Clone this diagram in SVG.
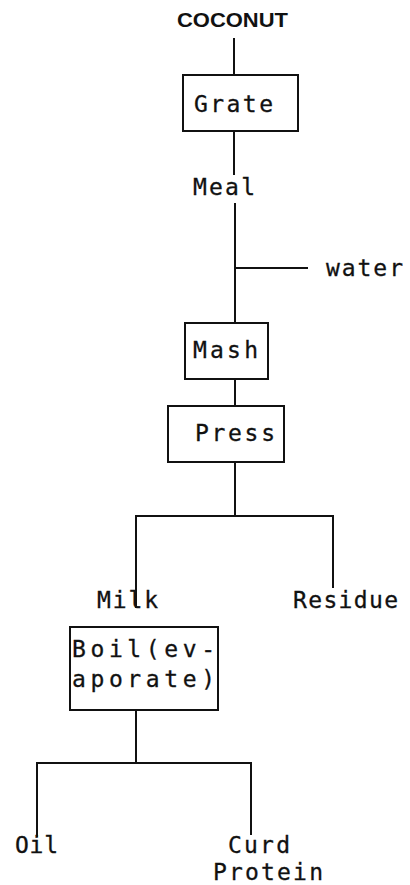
<svg xmlns="http://www.w3.org/2000/svg" width="410" height="885" viewBox="0 0 410 885">
<style>
.box{fill:#fff;stroke:#111;stroke-width:2}
.ln{fill:none;stroke:#111;stroke-width:2}
.t{font-family:"DejaVu Sans Mono","Liberation Mono",monospace;font-size:23px;fill:#111;stroke:#111;stroke-width:0.3}
.h{font-family:"Liberation Sans",Arial,sans-serif;font-weight:bold;font-size:20px;fill:#111}
</style>
<rect width="410" height="885" fill="#fff"/>
<g id="connectors">
<path class="ln" d="M234 38V75"/>
<path class="ln" d="M234 131V175"/>
<path class="ln" d="M235 203V323"/>
<path class="ln" d="M235 268H308"/>
<path class="ln" d="M235 379V406"/>
<path class="ln" d="M235 462V516"/>
<path class="ln" d="M136 608V516H333V588"/>
<path class="ln" d="M136 710V763"/>
<path class="ln" d="M37 837V763H251V835"/>
</g>
<g id="coconut"><text class="h" x="177" y="27" textLength="111" lengthAdjust="spacingAndGlyphs">COCONUT</text></g>
<g id="grate"><rect class="box" x="183" y="75" width="115" height="56"/><text class="t" x="194" y="112" textLength="79" lengthAdjust="spacing">Grate</text></g>
<g id="meal"><text class="t" x="193" y="195" textLength="62" lengthAdjust="spacing">Meal</text></g>
<g id="water"><text class="t" x="326" y="276" textLength="77" lengthAdjust="spacing">water</text></g>
<g id="mash"><rect class="box" x="185" y="323" width="83" height="56"/><text class="t" x="193" y="358" textLength="65" lengthAdjust="spacing">Mash</text></g>
<g id="press"><rect class="box" x="168" y="406" width="116" height="56"/><text class="t" x="195" y="441" textLength="80" lengthAdjust="spacing">Press</text></g>
<g id="milk"><text class="t" x="97" y="608" textLength="61" lengthAdjust="spacing">Milk</text></g>
<g id="residue"><text class="t" x="293" y="608" textLength="105" lengthAdjust="spacing">Residue</text></g>
<g id="boil"><rect class="box" x="70" y="627" width="148" height="83"/><text class="t" x="72" y="657" textLength="143" lengthAdjust="spacing">Boil(ev-</text><text class="t" x="72" y="687" textLength="143" lengthAdjust="spacing">aporate)</text></g>
<g id="oil"><text class="t" x="15" y="853" textLength="43" lengthAdjust="spacing">Oil</text></g>
<g id="curd"><text class="t" x="228" y="853" textLength="62" lengthAdjust="spacing">Curd</text><text class="t" x="213" y="880" textLength="110" lengthAdjust="spacing">Protein</text></g>
</svg>
